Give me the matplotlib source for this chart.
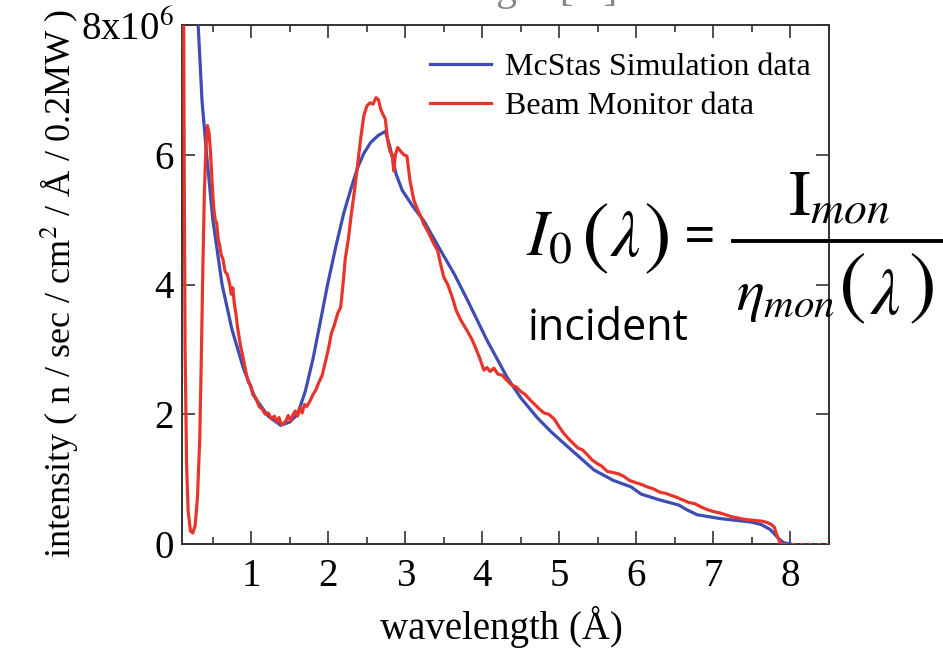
import numpy as np
import matplotlib
matplotlib.use("Agg")
import matplotlib.pyplot as plt
from matplotlib.lines import Line2D
from matplotlib.ticker import MultipleLocator, FixedLocator

plt.rcParams['font.family'] = ['Liberation Serif', 'DejaVu Serif']
plt.rcParams['mathtext.fontset'] = 'stix'

# McStas simulation (x in Angstrom, y in 1e6 n/sec/cm2/A/0.2MW)
sim_wl = [0.29, 0.31, 0.36, 0.42, 0.50, 0.62, 0.75, 0.90, 1.05, 1.22, 1.38, 1.50,
          1.60, 1.70, 1.80, 1.90, 1.99, 2.10, 2.20, 2.30, 2.38, 2.46, 2.55, 2.65,
          2.74, 2.80, 2.88, 2.96, 3.10, 3.24, 3.46, 3.64, 3.81, 4.06, 4.32, 4.50,
          4.71, 4.90, 5.06, 5.25, 5.45, 5.70, 5.93, 6.06, 6.30, 6.55, 6.65, 6.79,
          7.10, 7.48, 7.62, 7.74, 7.85, 7.91, 8.00]
sim_int = [8.6, 8.0, 6.83, 6.0, 5.0, 4.0, 3.3, 2.7, 2.25, 1.97, 1.83, 1.88,
           2.0, 2.35, 2.85, 3.45, 4.0, 4.6, 5.1, 5.5, 5.8, 6.02, 6.19, 6.30,
           6.36, 6.12, 5.7, 5.45, 5.2, 4.98, 4.52, 4.15, 3.75, 3.14, 2.57, 2.25,
           1.95, 1.72, 1.55, 1.35, 1.14, 0.98, 0.88, 0.77, 0.68, 0.60, 0.53, 0.45,
           0.39, 0.34, 0.30, 0.22, 0.08, 0.02, 0.0]

# beam monitor measurement
mon_wl = [0.12, 0.13, 0.14, 0.16, 0.18, 0.21, 0.24, 0.27, 0.30, 0.33, 0.35, 0.37,
          0.39, 0.41, 0.43, 0.45, 0.47, 0.49, 0.51, 0.53, 0.55, 0.57, 0.59, 0.61,
          0.63, 0.66, 0.69, 0.72, 0.74, 0.76, 0.78, 0.80, 0.82, 0.84, 0.86, 0.88,
          0.90, 0.93, 0.96, 0.99, 1.02, 1.06, 1.10, 1.14, 1.18, 1.22, 1.26, 1.30,
          1.33, 1.36, 1.39, 1.42, 1.45, 1.48, 1.51, 1.54, 1.57, 1.60, 1.63, 1.66,
          1.69, 1.72, 1.76, 1.80, 1.84, 1.88, 1.92, 1.96, 2.00, 2.04, 2.08, 2.12,
          2.16, 2.19, 2.22, 2.26, 2.30, 2.34, 2.38, 2.42, 2.46, 2.50, 2.54, 2.58,
          2.62, 2.65, 2.68, 2.71, 2.74, 2.77, 2.80, 2.83, 2.85, 2.87, 2.90, 2.94,
          2.98, 3.02, 3.06, 3.11, 3.16, 3.20, 3.24, 3.30, 3.36, 3.42, 3.46, 3.50,
          3.55, 3.61, 3.66, 3.72, 3.77, 3.82, 3.87, 3.92, 3.97, 4.02, 4.06, 4.10,
          4.15, 4.20, 4.26, 4.32, 4.38, 4.44, 4.50, 4.56, 4.62, 4.68, 4.74, 4.80,
          4.86, 4.93, 5.00, 5.06, 5.12, 5.18, 5.24, 5.30, 5.36, 5.42, 5.49, 5.55,
          5.62, 5.70, 5.77, 5.84, 5.91, 5.98, 6.06, 6.14, 6.22, 6.30, 6.38, 6.45,
          6.52, 6.60, 6.68, 6.76, 6.84, 6.92, 7.00, 7.08, 7.16, 7.24, 7.32, 7.40,
          7.48, 7.56, 7.64, 7.70, 7.75, 7.79, 7.82, 7.86, 7.88]
mon_int = [8.6, 5.5, 3.0, 1.2, 0.5, 0.2, 0.17, 0.28, 0.7, 1.6, 2.8, 4.2,
           5.4, 6.1, 6.45, 6.35, 6.05, 5.6, 5.2, 5.0, 4.95, 4.7, 4.6, 4.45,
           4.4, 4.2, 4.15, 4.0, 3.85, 3.95, 3.7, 3.55, 3.35, 3.2, 3.05, 2.95,
           2.83, 2.65, 2.5, 2.45, 2.3, 2.25, 2.12, 2.08, 2.0, 2.02, 1.93, 1.97,
           1.88, 1.95, 1.84, 1.86, 1.90, 1.98, 1.90, 1.99, 2.05, 1.97, 2.1, 2.02,
           2.15, 2.12, 2.2, 2.3, 2.38, 2.5, 2.6, 2.8, 3.0, 3.25, 3.38, 3.55,
           3.65, 4.0, 4.4, 4.7, 5.1, 5.45, 5.85, 6.25, 6.6, 6.75, 6.8, 6.78,
           6.88, 6.85, 6.7, 6.62, 6.55, 6.22, 6.05, 6.0, 5.75, 6.0, 6.11, 6.05,
           6.0, 5.98, 5.6, 5.3, 5.15, 5.05, 4.93, 4.8, 4.65, 4.52, 4.3, 4.11,
           4.0, 3.80, 3.6, 3.45, 3.35, 3.25, 3.14, 3.0, 2.85, 2.68, 2.72, 2.66,
           2.71, 2.62, 2.6, 2.52, 2.45, 2.42, 2.35, 2.30, 2.22, 2.15, 2.08, 2.02,
           2.0, 1.93, 1.80, 1.70, 1.62, 1.55, 1.48, 1.45, 1.38, 1.30, 1.24, 1.20,
           1.12, 1.10, 1.08, 1.04, 0.98, 0.95, 0.92, 0.88, 0.85, 0.80, 0.78, 0.75,
           0.72, 0.68, 0.64, 0.62, 0.57, 0.53, 0.50, 0.48, 0.45, 0.42, 0.40, 0.38,
           0.37, 0.36, 0.35, 0.33, 0.30, 0.26, 0.15, 0.03, 0.0]
mon_tail_wl = [7.9, 8.5]
mon_tail_int = [0.0, 0.0]

xticks = [1, 2, 3, 4, 5, 6, 7, 8]
yticks = [0, 2, 4, 6, 8]
ytick_labels = ['0', '2', '4', '6', r'8x10$^6$']

blue = '#3d4db3'
red = '#e8352b'
W, H = 943, 650


def fx(px):
    return px / W


def fy(py):
    return 1 - py / H


fig = plt.figure(figsize=(W / 100, H / 100), dpi=100)
ax = fig.add_axes([fx(182), fy(544), (829 - 182) / W, (544 - 25) / H])

ax.plot(sim_wl, sim_int, color=blue, lw=2.3, label='McStas Simulation data', zorder=3)
ax.plot(mon_wl, mon_int, color=red, lw=2.3, label='Beam Monitor data', zorder=4)
ax.plot(mon_tail_wl, mon_tail_int, color=red, lw=2.3, ls=':', zorder=4)

ax.set_xlim(0.1, 8.5)
ax.set_ylim(0, 8)
ax.xaxis.set_major_locator(FixedLocator(xticks))
ax.xaxis.set_minor_locator(MultipleLocator(0.5))
ax.set_yticks(yticks)
ax.set_yticklabels(ytick_labels)
ax.tick_params(which='both', direction='in', top=True, right=True,
               labelsize=28, color='#222222', width=1.1)
ax.tick_params(which='major', length=9.5)
ax.tick_params(which='minor', length=5)
ax.tick_params(axis='x', pad=10)
ax.tick_params(axis='y', pad=6)
for s in ax.spines.values():
    s.set_linewidth(1.4)
    s.set_color('#333333')

leg = ax.legend(loc='upper left', bbox_to_anchor=(fx(430), fy(53)),
                bbox_transform=fig.transFigure, frameon=False, fontsize=23,
                handlelength=1.9, handletextpad=0.45, labelspacing=0.3,
                borderpad=0, borderaxespad=0)

fig.text(fx(501), fy(627), 'wavelength (Å)', fontsize=28, ha='center', va='center')
fig.text(fx(60), fy(284), r'intensity ( n / sec / cm$^2$ / Å / 0.2MW )',
         fontsize=26, rotation=90, ha='center', va='center')

# partly cut label of the panel above
fig.text(fx(617), fy(0), 'wavelength [Å]', fontsize=30, ha='right',
         va='baseline', color='#555555', alpha=0.7)

# monitor efficiency correction formula
big = dict(fontsize=47, va='baseline', math_fontfamily='stix')
paren = dict(fontsize=60, va='center', ha='center', family='STIXGeneral')
fig.text(fx(526), fy(256), r'$I_0$', ha='left', **big)
fig.text(fx(596), fy(240), '(', **paren)
fig.text(fx(625), fy(256), r'$\lambda$', ha='center', **big)
fig.text(fx(657), fy(240), ')', **paren)
fig.text(fx(700), fy(240), '=', fontsize=40, ha='center', va='center',
         family='Open Sans')
fig.text(fx(788), fy(216), r'$\mathrm{I}_{mon}$', ha='left', **big)
fig.text(fx(736), fy(310), r'$\eta_{mon}$', ha='left', fontsize=42,
         va='baseline', math_fontfamily='stix')
fig.text(fx(853), fy(290), '(', **paren)
fig.text(fx(885), fy(314), r'$\lambda$', ha='center', **big)
fig.text(fx(922), fy(290), ')', **paren)
fig.add_artist(Line2D([fx(733), 1.0], [fy(241), fy(241)],
                      transform=fig.transFigure, color='black', lw=2.8))
fig.text(fx(528), fy(340), 'incident', fontsize=31, ha='left', va='baseline',
         family='Open Sans')

fig.savefig('out.png', dpi=100)
